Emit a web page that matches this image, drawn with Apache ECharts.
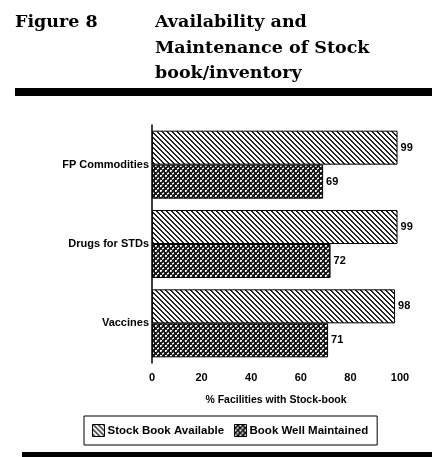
<!DOCTYPE html>
<html>
<head>
<meta charset="utf-8">
<script src="https://cdn.jsdelivr.net/npm/echarts@6/dist/echarts.min.js"></script>
<style>
  * { margin: 0; padding: 0; }
  body { background: #fff; }
  #chart { width: 432px; height: 457px; }
</style>
</head>
<body>
<div id="chart"></div>
<script>
var categories = ['FP Commodities', 'Drugs for STDs', 'Vaccines'];
var stockAvailable = [99, 99, 98];
var wellMaintained = [69, 72, 71];
var seriesNames = ['Stock Book Available', 'Book Well Maintained'];
var xTicks = [0, 20, 40, 60, 80, 100];

// little canvas tiles for the hatch fills
function hatchTile() {
  var n = 5, c = document.createElement('canvas');
  c.width = n; c.height = n;
  var ctx = c.getContext('2d');
  ctx.fillStyle = '#fff';
  ctx.fillRect(0, 0, n, n);
  ctx.fillStyle = '#222';
  for (var y = 0; y < n; y++) {
    for (var x = 0; x < n; x++) {
      if (((x - y) % n + n) % n < 2) ctx.fillRect(x, y, 1, 1);
    }
  }
  return c;
}
function dotTile() {
  var n = 5, c = document.createElement('canvas');
  c.width = n; c.height = n;
  var ctx = c.getContext('2d');
  ctx.fillStyle = '#1a1a1a';
  ctx.fillRect(0, 0, n, n);
  // white dots on a diagonal grid
  ctx.fillStyle = '#fff';
  ctx.fillRect(0, 0, 2, 1);
  ctx.fillRect(0, 1, 1, 1);
  ctx.fillRect(2, 3, 2, 1);
  ctx.fillStyle = '#999';
  ctx.fillRect(1, 1, 1, 1);
  ctx.fillRect(3, 2, 1, 1);
  ctx.fillRect(2, 4, 1, 1);
  return c;
}

var chart = echarts.init(document.getElementById('chart'));
var lblFont = { fontFamily: 'Liberation Sans', fontWeight: 'bold', fontSize: 11, color: '#000' };

chart.setOption({
  animation: false,
  backgroundColor: '#fff',
  title: [{
    text: 'Figure 8',
    left: 15, top: 10, padding: 0,
    textStyle: { fontFamily: 'DejaVu Serif', fontWeight: 'bold', fontSize: 17.5, lineHeight: 25, color: '#000' }
  }, {
    text: 'Availability and\nMaintenance of Stock\nbook/inventory',
    left: 155, top: 10, padding: 0,
    textStyle: { fontFamily: 'DejaVu Serif', fontWeight: 'bold', fontSize: 17.5, lineHeight: 25.5, color: '#000' }
  }],
  graphic: [
    { type: 'rect', shape: { x: 15, y: 88, width: 417, height: 8 }, style: { fill: '#000' } },
    { type: 'rect', shape: { x: 22, y: 452, width: 410, height: 5 }, style: { fill: '#000' } }
  ],
  legend: {
    data: seriesNames,
    left: 84, top: 416,
    padding: [8, 9, 8, 8],
    itemGap: 10,
    itemWidth: 12, itemHeight: 12,
    borderColor: '#000', borderWidth: 1,
    icon: 'rect',
    itemStyle: { borderColor: '#000', borderWidth: 1 },
    textStyle: { fontFamily: 'Liberation Sans', fontWeight: 'bold', fontSize: 11.5, color: '#000', padding: [0, 0, 0, -2] }
  },
  grid: { left: 152, right: 32, top: 125, bottom: 94 },
  xAxis: {
    type: 'value',
    min: xTicks[0], max: xTicks[xTicks.length - 1], interval: 20,
    name: '% Facilities with Stock-book',
    nameLocation: 'middle', nameGap: 32,
    nameTextStyle: { fontFamily: 'Liberation Sans', fontWeight: 'bold', fontSize: 10.5, color: '#000' },
    axisLine: { lineStyle: { color: '#000', width: 1 } },
    axisTick: { show: false },
    splitLine: { show: false },
    axisLabel: Object.assign({ margin: 9 }, lblFont)
  },
  yAxis: {
    type: 'category',
    data: categories,
    inverse: true,
    axisLine: { lineStyle: { color: '#000', width: 1.5 } },
    axisTick: { show: false },
    axisLabel: Object.assign({ margin: 3 }, lblFont)
  },
  series: [{
    name: seriesNames[0],
    type: 'bar',
    data: stockAvailable,
    barWidth: 34,
    barGap: '0%',
    itemStyle: { color: { image: hatchTile(), repeat: 'repeat' }, borderColor: '#000', borderWidth: 1 },
    label: Object.assign({ show: true, position: 'right', distance: 3 }, lblFont)
  }, {
    name: seriesNames[1],
    type: 'bar',
    data: wellMaintained,
    barWidth: 34,
    itemStyle: { color: { image: dotTile(), repeat: 'repeat' }, borderColor: '#000', borderWidth: 1 },
    label: Object.assign({ show: true, position: 'right', distance: 3 }, lblFont)
  }]
});
</script>
</body>
</html>
